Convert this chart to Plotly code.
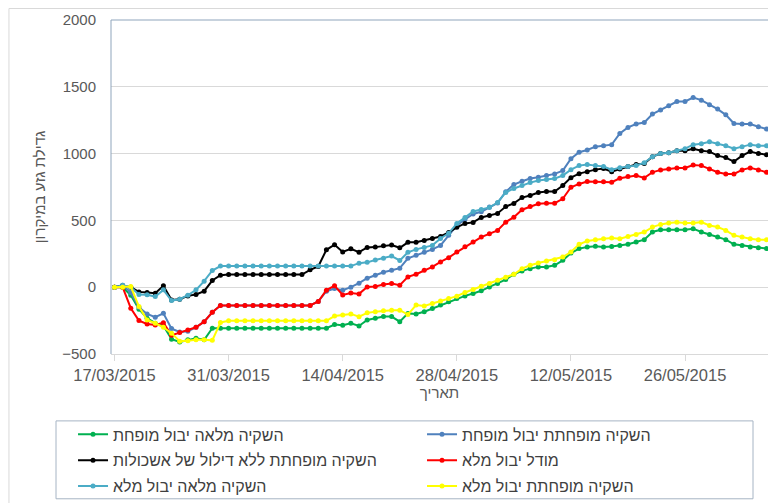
import pandas as pd
import plotly.graph_objects as go

start_date = "2015-03-17"
n_days = 81
dates = pd.date_range(start_date, periods=n_days, freq="D")

names = {
    "green": "השקיה מלאה יבול מופחת",
    "blue": "השקיה מופחתת יבול מופחת",
    "black": "השקיה מופחתת ללא דילול של אשכולות",
    "red": "מודל יבול מלא",
    "cyan": "השקיה מלאה יבול מלא",
    "yellow": "השקיה מופחתת יבול מלא",
}

green = [0, 0, -60, -165, -232, -269, -289, -389, -410, -394, -382, -394, -307, -307,
         -307, -307, -307, -307, -307, -307, -307, -307, -307, -307, -307, -307, -307,
         -280, -285, -270, -290, -245, -233, -220, -220, -258, -196, -201, -184, -159,
         -134, -109, -85, -65, -47, -27, 2, 27, 57, 97, 122, 139, 152, 152, 164, 201,
         256, 289, 301, 306, 301, 304, 313, 321, 338, 356, 413, 430, 430, 430, 430,
         438, 413, 395, 375, 356, 321, 313, 301, 296, 289]

blue = [0, 15, -40, -150, -200, -225, -195, -310, -335, -330, -300, -258, -188, -137,
        -137, -137, -137, -137, -137, -137, -137, -137, -137, -137, -137,
        -107, -30, -10, -22, 0, 30, 67, 90, 112, 127, 142, 216, 239, 261, 283, 313,
        388, 462, 507, 548, 565, 600, 630, 715, 768, 793, 813, 823, 836, 848, 873,
        962, 1010, 1027, 1052, 1059, 1067, 1151, 1196, 1221, 1233, 1296, 1326, 1358,
        1390, 1390, 1420, 1400, 1365, 1333, 1290, 1226, 1221, 1221, 1201, 1184]

black = [0, 10, 0, -35, -40, -45, 10, -95, -90, -65, -55, -30, 50, 90,
         95, 95, 95, 95, 95, 95, 95, 95, 95, 95,
         130, 155, 280, 318, 264, 288, 262, 298, 300, 310, 315, 295, 336, 336, 350,
         365, 380, 410, 448, 477, 485, 522, 537, 552, 604, 627, 671, 686, 709, 716,
         716, 761, 820, 850, 865, 880, 888, 865, 884, 903, 918, 925, 977, 1000, 1007,
         1022, 1022, 1037, 1022, 1015, 985, 970, 940, 985, 1015, 1000, 992]

red = [0, 0, -157, -250, -275, -283, -266, -360, -340, -320, -300, -258, -188, -137,
       -137, -137, -137, -137, -137, -137, -137, -137, -137, -137, -137,
       -107, -22, 10, -58, -44, -50, 2, 5, 20, 27, 15, 77, 97, 127, 152, 189, 221,
       263, 303, 338, 375, 400, 425, 487, 524, 580, 604, 624, 629, 629, 662, 748,
       773, 791, 790, 790, 786, 815, 828, 836, 818, 860, 878, 885, 893, 893, 915,
       910, 885, 860, 848, 848, 878, 893, 878, 860]

cyan = [0, 15, 0, -55, -57, -70, -20, -100, -90, -60, -20, 45, 125, 158,
        158, 158, 158, 158, 158, 158, 158, 158, 158, 158, 158, 158, 158, 158, 158, 158,
        180, 186, 203, 216, 233, 200, 261, 283, 298, 313, 365, 403, 477, 522, 567,
        582, 597, 634, 709, 739, 761, 783, 798, 806, 813, 836, 880, 910, 918, 910,
        903, 880, 895, 903, 910, 932, 977, 1000, 1007, 1022, 1037, 1067, 1074, 1089,
        1074, 1059, 1037, 1052, 1067, 1059, 1059]

yellow = [0, 0, 5, -145, -245, -270, -300, -344, -405, -400, -394, -394, -398, -264,
          -252, -252, -252, -252, -252, -252, -252, -252, -252, -252, -252, -252, -252,
          -216, -209, -200, -221, -192, -184, -177, -172, -172, -205, -134, -140, -122,
          -104, -85, -67, -40, -17, 7, 27, 52, 75, 97, 139, 164, 181, 196, 206, 226,
          263, 321, 346, 356, 363, 368, 363, 380, 395, 413, 450, 470, 480, 487, 480,
          480, 487, 462, 450, 425, 388, 375, 363, 356, 356]

y_ticks = [-500, 0, 500, 1000, 1500, 2000]
x_title = "תאריך"
y_title = "גדילת גזע במיקרון"

colors = {
    "green": "#00B050",
    "blue": "#4F81BD",
    "black": "#000000",
    "red": "#FF0000",
    "cyan": "#4BACC6",
    "yellow": "#FFFF00",
}
series = [("green", green, "legend"), ("blue", blue, "legend2"),
          ("black", black, "legend"), ("red", red, "legend2"),
          ("cyan", cyan, "legend"), ("yellow", yellow, "legend2")]

fig = go.Figure()
for key, vals, leg in series:
    fig.add_trace(go.Scatter(
        x=dates, y=vals, name=names[key], mode="lines+markers",
        line=dict(color=colors[key], width=2),
        marker=dict(color=colors[key], size=5),
        legend=leg, legendgroup=key,
    ))

FONT = "Liberation Sans, Arial, sans-serif"
x0 = pd.Timestamp(start_date) - pd.Timedelta(hours=10.3)
x1 = pd.Timestamp(start_date) + pd.Timedelta(days=80, hours=4.3)

legend_font = dict(size=16, color="#404040")
fig.update_layout(
    width=768, height=503,
    margin=dict(l=111, r=0, t=20, b=149, autoexpand=False),
    paper_bgcolor="white", plot_bgcolor="white",
    font=dict(family=FONT, color="#595959"),
    showlegend=True,
    legend=dict(x=-0.0578, y=-0.190, xanchor="left", yanchor="top",
                orientation="v", bgcolor="rgba(0,0,0,0)", borderwidth=0,
                tracegroupgap=2, font=legend_font),
    legend2=dict(x=0.4734, y=-0.190, xanchor="left", yanchor="top",
                 orientation="v", bgcolor="rgba(0,0,0,0)", borderwidth=0,
                 tracegroupgap=2, font=legend_font),
    xaxis=dict(
        type="date", range=[x0, x1],
        tick0=start_date, dtick=14 * 86400000, tickformat="%d/%m/%Y",
        ticks="outside", ticklen=6, tickcolor="#D9D9D9",
        showline=True, linecolor="#D9D9D9", linewidth=1,
        showgrid=False, zeroline=False,
        tickfont=dict(size=16.5, color="#595959"),
        title=dict(text=x_title, font=dict(size=15, color="#595959"), standoff=2),
        automargin=False,
    ),
    yaxis=dict(
        range=[-500, 2000], tickvals=y_ticks,
        showgrid=True, gridcolor="#D9D9D9", gridwidth=1,
        zeroline=False, showline=False, ticks="",
        ticklabelstandoff=14,
        tickfont=dict(size=15, color="#595959"),
        title=dict(text=y_title, font=dict(size=15, color="#595959"), standoff=12),
        automargin=False,
    ),
    shapes=[
        # outer chart border
        dict(type="rect", xref="paper", yref="paper",
             x0=-0.1553, x1=1.2, y0=-0.6, y1=1.0344,
             line=dict(color="#D9D9D9", width=1), layer="below"),
        # plot area left and top border
        dict(type="line", xref="paper", yref="paper", x0=0, x1=0, y0=0, y1=1,
             line=dict(color="#8FA5BC", width=1)),
        dict(type="line", xref="paper", yref="paper", x0=0, x1=1.05, y0=1, y1=1,
             line=dict(color="#8FA5BC", width=1)),
        # legend box
        dict(type="rect", xref="paper", yref="paper",
             x0=(56 - 111) / 657, x1=(753 - 111) / 657,
             y0=(354 - 499) / 334.5, y1=(354 - 421) / 334.5,
             line=dict(color="#A6B4C4", width=1)),
    ],
)

fig.write_html(
    "out.html",
    config={"displayModeBar": False},
    post_script="document.body.style.margin='0';document.body.style.overflow='hidden';",
)
